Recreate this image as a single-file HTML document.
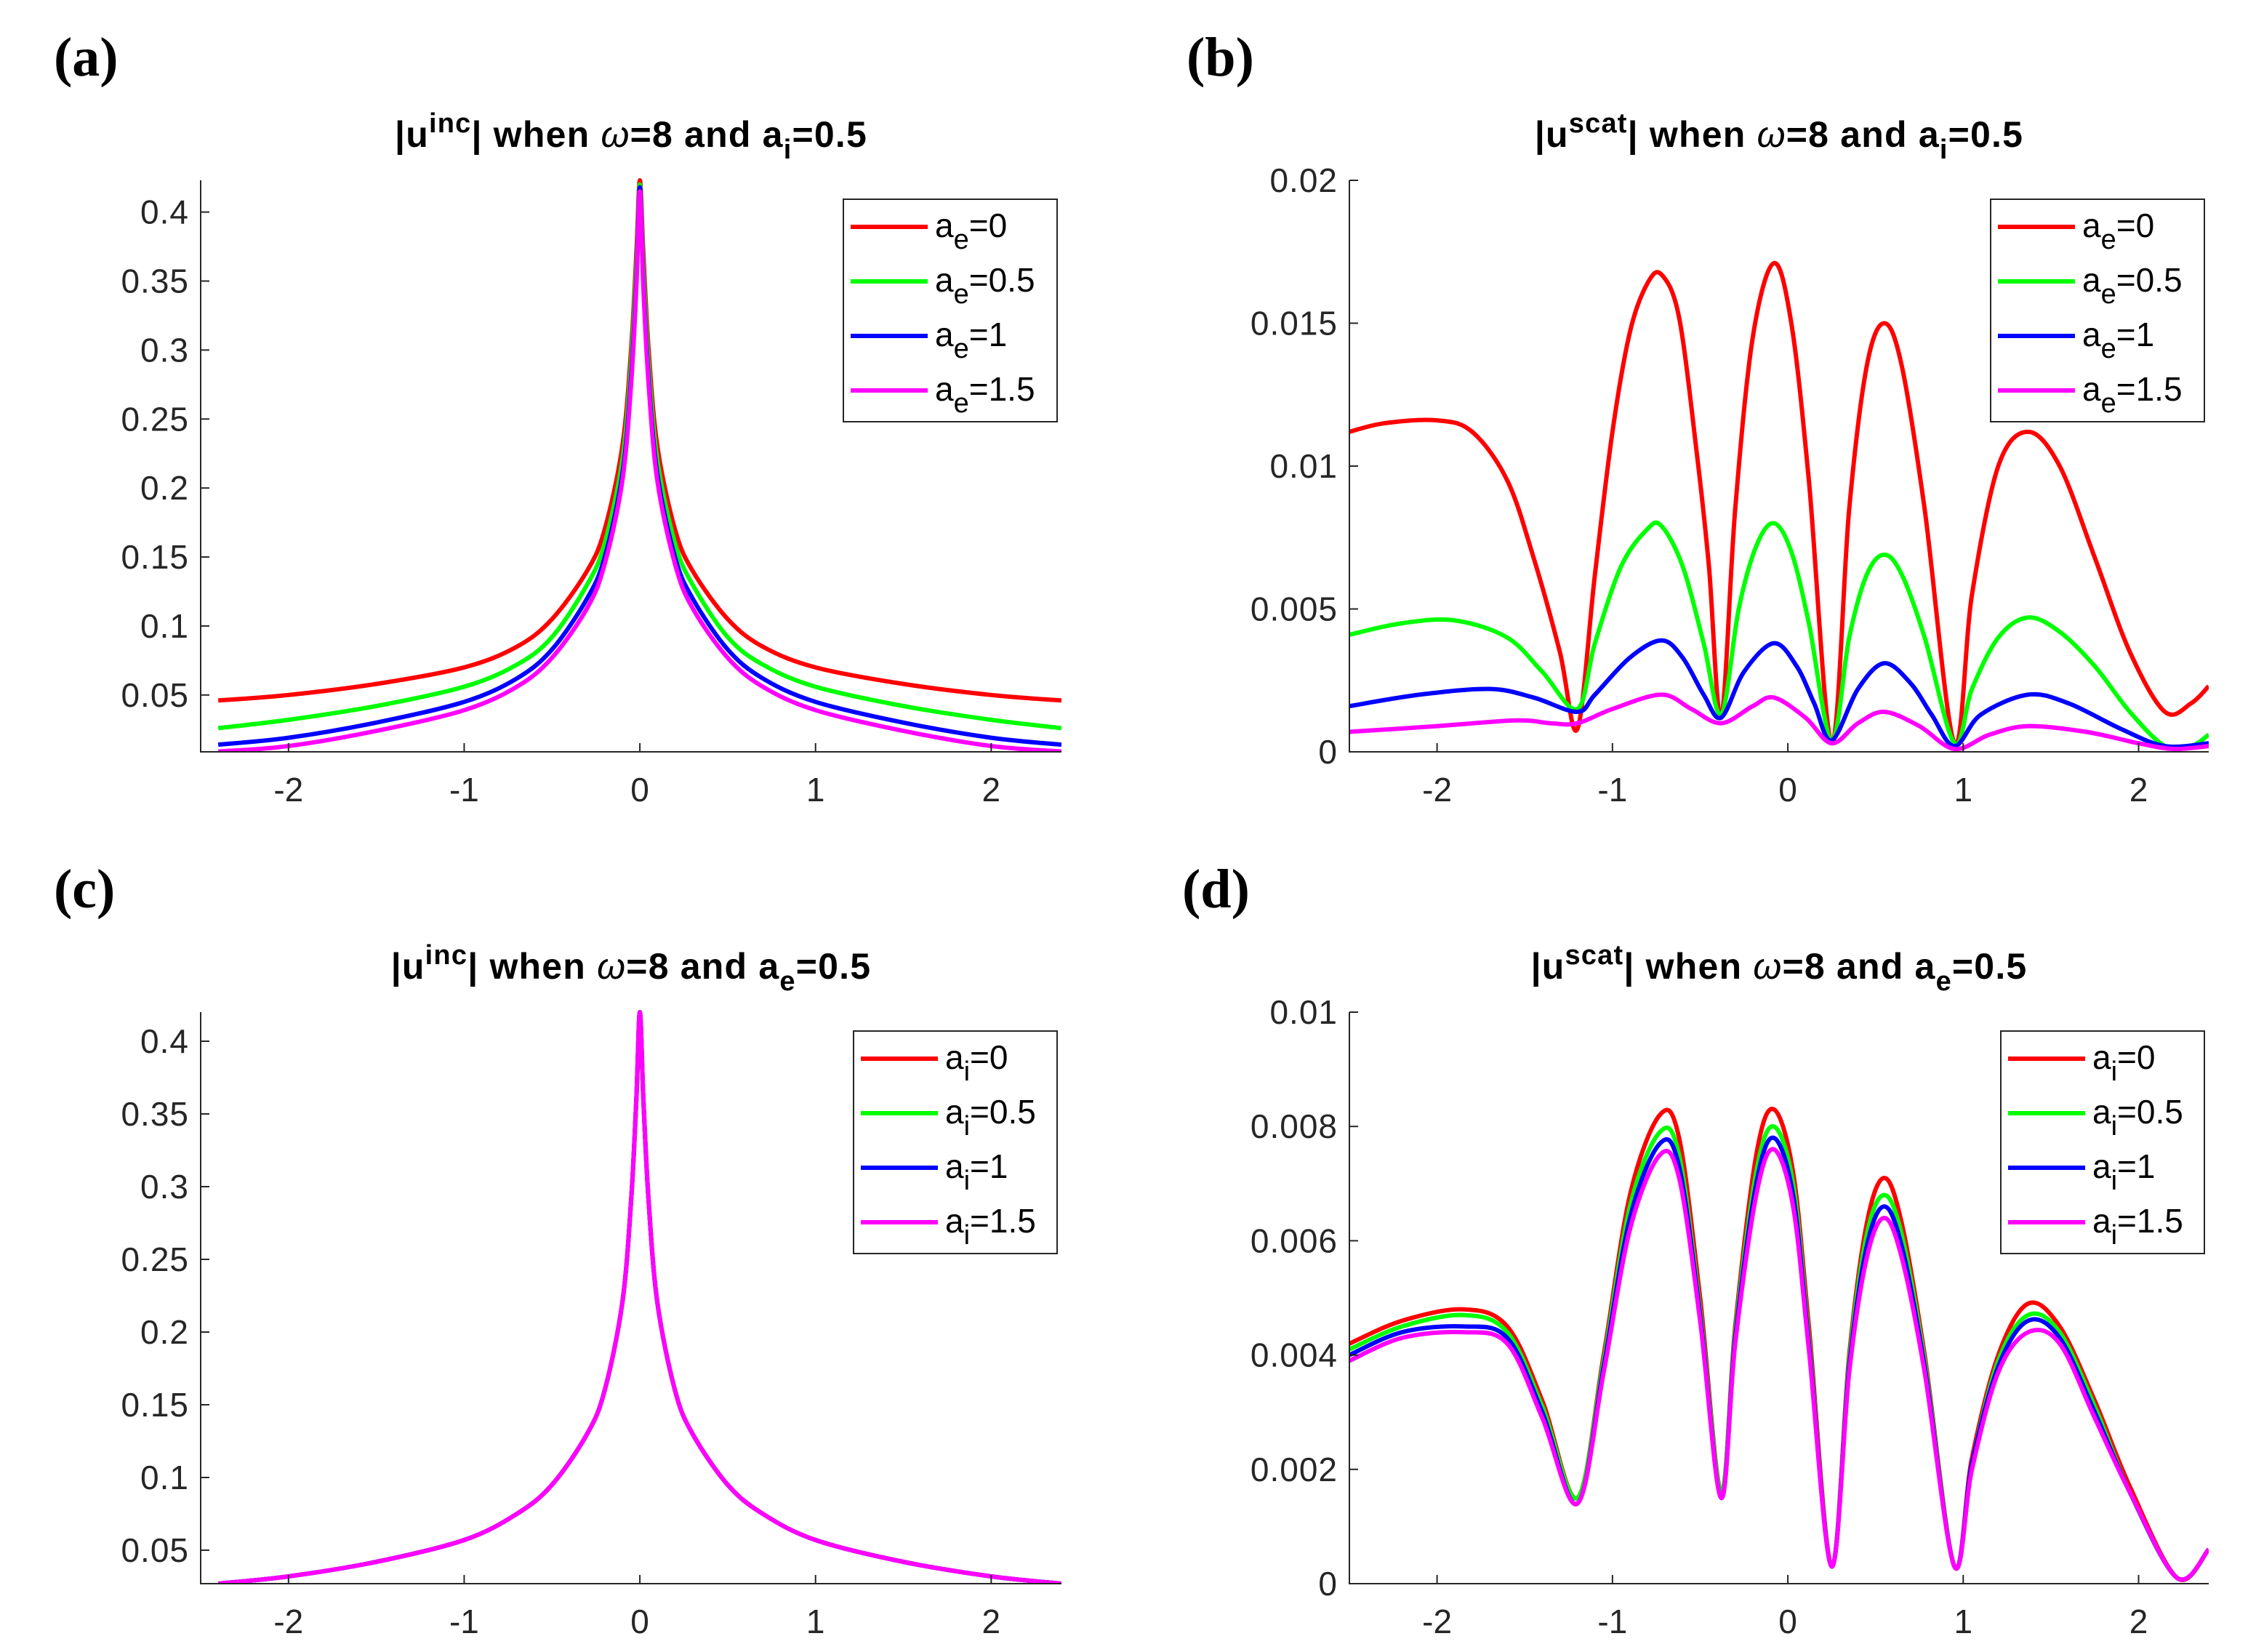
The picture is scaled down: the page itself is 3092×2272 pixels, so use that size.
<!DOCTYPE html>
<html><head><meta charset="utf-8"><style>
html,body{margin:0;padding:0;background:#fff;}
svg{display:block;font-family:"Liberation Sans",sans-serif;}
</style></head><body>
<svg id="fig" width="3092" height="2272" viewBox="0 0 1546 1136" xmlns="http://www.w3.org/2000/svg">
<rect width="1546" height="1136" fill="#fff"/>
</svg>
<script>
// ---------- data ----------
const xTicks = [-2, -1, 0, 1, 2];
const yTicksInc = [0.05, 0.1, 0.15, 0.2, 0.25, 0.3, 0.35, 0.4];
const yLabelsInc = ['0.05','0.1','0.15','0.2','0.25','0.3','0.35','0.4'];
const yTicksB = [0, 0.005, 0.01, 0.015, 0.02];
const yLabelsB = ['0','0.005','0.01','0.015','0.02'];
const yTicksD = [0, 0.002, 0.004, 0.006, 0.008, 0.01];
const yLabelsD = ['0','0.002','0.004','0.006','0.008','0.01'];

const incX = [-2.4,-2,-1.5,-1,-0.7,-0.5,-0.3,-0.2,-0.1,-0.05,-0.02,0,0.02,0.05,0.1,0.2,0.3,0.5,0.7,1,1.5,2,2.4];
const incA_red     = [0.046,0.050,0.058,0.070,0.085,0.105,0.140,0.170,0.230,0.300,0.370,0.423,0.370,0.300,0.230,0.170,0.140,0.105,0.085,0.070,0.058,0.050,0.046];
const incA_green   = [0.026,0.032,0.042,0.056,0.072,0.092,0.130,0.160,0.220,0.290,0.360,0.420,0.360,0.290,0.220,0.160,0.130,0.092,0.072,0.056,0.042,0.032,0.026];
const incA_blue    = [0.014,0.019,0.030,0.045,0.062,0.083,0.120,0.150,0.210,0.280,0.350,0.418,0.350,0.280,0.210,0.150,0.120,0.083,0.062,0.045,0.030,0.019,0.014];
const incA_magenta = [0.009,0.013,0.024,0.039,0.056,0.077,0.113,0.145,0.205,0.275,0.345,0.415,0.345,0.275,0.205,0.145,0.113,0.077,0.056,0.039,0.024,0.013,0.009];
const incC_all     = [0.027,0.032,0.042,0.057,0.075,0.095,0.130,0.160,0.220,0.290,0.360,0.420,0.360,0.290,0.220,0.160,0.130,0.095,0.075,0.057,0.042,0.032,0.027];

const bRedX = [-2.5,-2.3,-2.0,-1.8,-1.6,-1.45,-1.3,-1.2,-1.1,-1.0,-0.9,-0.8,-0.72,-0.62,-0.52,-0.45,-0.38,-0.3,-0.2,-0.08,0.02,0.12,0.25,0.35,0.45,0.55,0.65,0.78,0.95,1.05,1.2,1.37,1.55,1.75,1.95,2.15,2.3,2.4];
const bRedY = [0.0112,0.0115,0.0116,0.0112,0.0095,0.0068,0.0035,0.0008,0.0062,0.0112,0.0147,0.0164,0.0167,0.0152,0.0105,0.0065,0.0012,0.0085,0.0145,0.0171,0.0150,0.0095,0.0003,0.0085,0.0135,0.0150,0.0135,0.0085,0.0003,0.0055,0.0100,0.0112,0.0100,0.0068,0.0035,0.0014,0.0017,0.0023];
const bGreenX = [-2.5,-2.2,-1.9,-1.6,-1.4,-1.2,-1.1,-0.95,-0.8,-0.72,-0.6,-0.48,-0.38,-0.28,-0.18,-0.08,0.02,0.12,0.25,0.35,0.45,0.55,0.65,0.78,0.95,1.05,1.2,1.37,1.55,1.75,1.95,2.15,2.3,2.4];
const bGreenY = [0.0041,0.0045,0.0046,0.0040,0.0028,0.0015,0.0038,0.0065,0.0078,0.0079,0.0065,0.0038,0.0013,0.0050,0.0072,0.0080,0.0070,0.0045,0.0004,0.0040,0.0062,0.0069,0.0062,0.0040,0.0003,0.0022,0.0040,0.0047,0.0042,0.0030,0.0014,0.0002,0.0002,0.0006];
const bBlueX = [-2.5,-2.1,-1.7,-1.45,-1.2,-1.1,-0.9,-0.72,-0.6,-0.48,-0.38,-0.25,-0.08,0.05,0.15,0.25,0.4,0.55,0.7,0.82,0.95,1.1,1.37,1.6,1.9,2.15,2.4];
const bBlueY = [0.0016,0.0020,0.0022,0.0019,0.0014,0.0020,0.0033,0.0039,0.0033,0.0020,0.0012,0.0028,0.0038,0.0030,0.0017,0.0004,0.0022,0.0031,0.0024,0.0013,0.0002,0.0013,0.0020,0.0017,0.0008,0.0002,0.0003];
const bMagX = [-2.5,-2.0,-1.55,-1.35,-1.2,-1.0,-0.72,-0.55,-0.38,-0.2,-0.08,0.1,0.25,0.4,0.55,0.75,0.95,1.15,1.37,1.7,2.0,2.2,2.4];
const bMagY = [0.0007,0.0009,0.0011,0.0010,0.0010,0.0015,0.0020,0.0015,0.0010,0.0016,0.0019,0.0012,0.0003,0.0010,0.0014,0.0009,0.0001,0.0006,0.0009,0.0007,0.0003,0.0001,0.0002];

const dX = [-2.5,-2.2,-1.85,-1.6,-1.4,-1.2,-1.05,-0.9,-0.73,-0.62,-0.5,-0.38,-0.3,-0.18,-0.08,0.03,0.12,0.25,0.35,0.45,0.55,0.65,0.78,0.95,1.05,1.2,1.37,1.55,1.75,1.95,2.22,2.4];
const dRed     = [0.0042,0.0046,0.0048,0.0045,0.0032,0.0015,0.0040,0.0068,0.0082,0.0078,0.0050,0.0016,0.0045,0.0075,0.0083,0.0072,0.0045,0.0003,0.0040,0.0063,0.0071,0.0063,0.0040,0.0003,0.0022,0.0040,0.0049,0.0045,0.0032,0.0017,0.0001,0.0006];
const dGreen   = [0.0041,0.0045,0.0047,0.0044,0.0031,0.0015,0.0039,0.0066,0.0079,0.0075,0.0048,0.0016,0.0044,0.0072,0.0080,0.0070,0.0043,0.0003,0.0039,0.0061,0.0068,0.0061,0.0039,0.0003,0.0021,0.0039,0.0047,0.0044,0.0031,0.0016,0.0001,0.0006];
const dBlue    = [0.0040,0.0044,0.0045,0.0043,0.0030,0.0014,0.0038,0.0064,0.0077,0.0073,0.0047,0.0015,0.0043,0.0070,0.0078,0.0068,0.0042,0.0003,0.0038,0.0059,0.0066,0.0059,0.0038,0.0003,0.0021,0.0038,0.0046,0.0043,0.0030,0.0016,0.0001,0.0006];
const dMagenta = [0.0039,0.0043,0.0044,0.0042,0.0029,0.0014,0.0037,0.0062,0.0075,0.0071,0.0046,0.0015,0.0042,0.0068,0.0076,0.0066,0.0041,0.0003,0.0037,0.0057,0.0064,0.0057,0.0037,0.0003,0.0020,0.0037,0.0044,0.0042,0.0029,0.0016,0.0001,0.0006];

// ---------- drawing ----------
const NS = 'http://www.w3.org/2000/svg';
const svg = document.getElementById('fig');
function el(tag, attrs, parent) {
  const e = document.createElementNS(NS, tag);
  for (const k in attrs) e.setAttribute(k, attrs[k]);
  (parent || svg).appendChild(e);
  return e;
}
const COL = {red:'#ff0000', green:'#00ff00', blue:'#0000ff', magenta:'#ff00ff'};

function pathFrom(xs, ys, sx, sy) {
  const P = xs.map((x, i) => [sx(x), sy(ys[i])]);
  let d = 'M' + P[0][0].toFixed(2) + ',' + P[0][1].toFixed(2);
  for (let i = 0; i < P.length - 1; i++) {
    const p0 = P[Math.max(0, i - 1)], p1 = P[i], p2 = P[i + 1], p3 = P[Math.min(P.length - 1, i + 2)];
    const c1 = [p1[0] + (p2[0] - p0[0]) / 6, p1[1] + (p2[1] - p0[1]) / 6];
    const c2 = [p2[0] - (p3[0] - p1[0]) / 6, p2[1] - (p3[1] - p1[1]) / 6];
    d += 'C' + c1[0].toFixed(2) + ',' + c1[1].toFixed(2) + ' ' + c2[0].toFixed(2) + ',' + c2[1].toFixed(2) + ' ' + p2[0].toFixed(2) + ',' + p2[1].toFixed(2);
  }
  return d;
}

let clipId = 0;
function panel(p) {
  const g = el('g', {});
  
  
  const sx = x => p.left + (x - p.xmin) / (p.xmax - p.xmin) * p.w;
  const sy = y => p.bottom - (y - p.ymin) / (p.ymax - p.ymin) * (p.bottom - p.top);
  // panel label
  const lab = el('text', {x: p.labelX, y: p.labelY, 'font-family': '"Liberation Serif",serif', 'font-size': 38, 'font-weight': 'bold', fill: '#000'}, g);
  lab.textContent = p.label;
  
  
  // title
  const t = el('text', {x: p.left + p.w / 2, y: p.titleY, 'text-anchor': 'middle', 'font-size': 25, 'font-weight': 'bold', 'letter-spacing': '0.6', fill: '#000'}, g);
  
  
  t.innerHTML = '|u<tspan dy="-10" font-size="19">' + p.sup + '</tspan><tspan dy="10">| when </tspan><tspan font-style="italic" font-weight="normal">ω</tspan><tspan>=8 and a</tspan><tspan dy="8" font-size="19">' + p.sub + '</tspan><tspan dy="-8">=0.5</tspan>';
  // clip
  const cid = 'c' + (clipId++);
  const cp = el('clipPath', {id: cid}, g);
  el('rect', {x: p.left, y: p.top - 4, width: p.w, height: p.bottom - p.top + 4}, cp);
  // series
  const sg = el('g', {'clip-path': 'url(#' + cid + ')'}, g);
  p.series.forEach(s => {
    const path = el('path', {d: pathFrom(s.x, s.y, sx, sy), fill: 'none', stroke: COL[s.c], 'stroke-width': 3, 'stroke-linejoin': 'round'}, sg);
    
    
  });
  // axes
  const ax = el('path', {d: 'M' + p.left + ',' + p.top + 'V' + p.bottom + 'H' + (p.left + p.w), fill: 'none', stroke: '#262626', 'stroke-width': 1}, g);
  
  
  xTicks.forEach(v => {
    el('line', {x1: sx(v), x2: sx(v), y1: p.bottom, y2: p.bottom - 6, stroke: '#262626', 'stroke-width': 1}, g);
    const tl = el('text', {x: sx(v), y: p.bottom + 34, 'text-anchor': 'middle', 'font-size': 23, fill: '#262626'}, g);
    tl.textContent = v;
    
    
  });
  p.yt.forEach((v, i) => {
    el('line', {x1: p.left, x2: p.left + 6, y1: sy(v), y2: sy(v), stroke: '#262626', 'stroke-width': 1}, g);
    const tl = el('text', {x: p.left - 8, y: sy(v) + 8, 'text-anchor': 'end', 'font-size': 23, 'letter-spacing': '0.5', fill: '#262626'}, g);
    tl.textContent = p.yl[i];
    
    
  });
  // legend
  const lg = el('g', {}, g);
  
  
  el('rect', {x: p.lx, y: p.ly, width: p.lw, height: 153, fill: '#fff', stroke: '#262626', 'stroke-width': 1}, lg);
  p.series.forEach((s, i) => {
    const yy = p.ly + 19 + i * 37.5;
    el('line', {x1: p.lx + 5, x2: p.lx + 58, y1: yy, y2: yy, stroke: COL[s.c], 'stroke-width': 3}, lg);
    const tx = el('text', {x: p.lx + 63, y: yy + 7, 'font-size': 23, fill: '#000'}, lg);
    
    
    tx.innerHTML = 'a<tspan dy="8" font-size="19">' + p.sub2 + '</tspan><tspan dy="-8">=' + s.lab + '</tspan>';
  });
}

const labs = ['0', '0.5', '1', '1.5'];
panel({name: 'panel-a', label: '(a)', labelX: 37, labelY: 52, titleY: 101, sup: 'inc', sub: 'i', sub2: 'e',
  left: 138, w: 592, top: 124, bottom: 517, xmin: -2.5, xmax: 2.4, ymin: 0.0088, ymax: 0.423,
  yt: yTicksInc, yl: yLabelsInc, lx: 580, ly: 137, lw: 147,
  series: [{c: 'red', x: incX, y: incA_red, lab: labs[0]}, {c: 'green', x: incX, y: incA_green, lab: labs[1]},
           {c: 'blue', x: incX, y: incA_blue, lab: labs[2]}, {c: 'magenta', x: incX, y: incA_magenta, lab: labs[3]}]});
panel({name: 'panel-b', label: '(b)', labelX: 816, labelY: 52, titleY: 101, sup: 'scat', sub: 'i', sub2: 'e',
  left: 928, w: 591, top: 124, bottom: 517, xmin: -2.5, xmax: 2.4, ymin: 0, ymax: 0.02,
  yt: yTicksB, yl: yLabelsB, lx: 1369, ly: 137, lw: 147,
  series: [{c: 'red', x: bRedX, y: bRedY, lab: labs[0]}, {c: 'green', x: bGreenX, y: bGreenY, lab: labs[1]},
           {c: 'blue', x: bBlueX, y: bBlueY, lab: labs[2]}, {c: 'magenta', x: bMagX, y: bMagY, lab: labs[3]}]});
panel({name: 'panel-c', label: '(c)', labelX: 37, labelY: 624, titleY: 673, sup: 'inc', sub: 'e', sub2: 'i',
  left: 138, w: 592, top: 696, bottom: 1089, xmin: -2.5, xmax: 2.4, ymin: 0.027, ymax: 0.42,
  yt: yTicksInc, yl: yLabelsInc, lx: 587, ly: 709, lw: 140,
  series: [{c: 'red', x: incX, y: incC_all, lab: labs[0]}, {c: 'green', x: incX, y: incC_all, lab: labs[1]},
           {c: 'blue', x: incX, y: incC_all, lab: labs[2]}, {c: 'magenta', x: incX, y: incC_all, lab: labs[3]}]});
panel({name: 'panel-d', label: '(d)', labelX: 813, labelY: 624, titleY: 673, sup: 'scat', sub: 'e', sub2: 'i',
  left: 928, w: 591, top: 696, bottom: 1089, xmin: -2.5, xmax: 2.4, ymin: 0, ymax: 0.01,
  yt: yTicksD, yl: yLabelsD, lx: 1376, ly: 709, lw: 140,
  series: [{c: 'red', x: dX, y: dRed, lab: labs[0]}, {c: 'green', x: dX, y: dGreen, lab: labs[1]},
           {c: 'blue', x: dX, y: dBlue, lab: labs[2]}, {c: 'magenta', x: dX, y: dMagenta, lab: labs[3]}]});
</script>
</body></html>
